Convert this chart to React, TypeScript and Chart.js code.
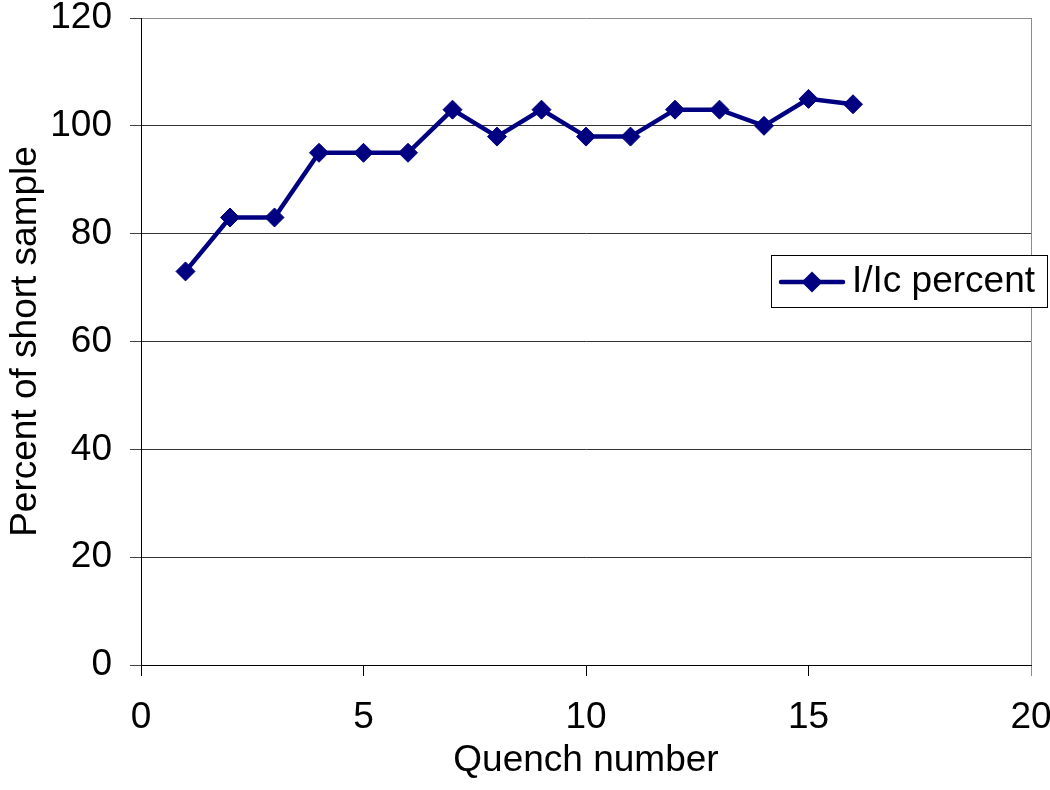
import React, { useEffect, useRef } from "react";
import { Chart, registerables } from "chart.js";

Chart.register(...registerables);

const quenchNumbers = [1, 2, 3, 4, 5, 6, 7, 8, 9, 10, 11, 12, 13, 14, 15, 16];
const percentValues = [73, 83, 83, 95, 95, 95, 103, 98, 103, 98, 98, 103, 103, 100, 105, 104];
const seriesLabel = "I/Ic percent";
const xTitle = "Quench number";
const yTitle = "Percent of short sample";

const FONT = "'Liberation Sans', Arial, sans-serif";
const NAVY = "#000080";

const legendPlugin = {
  id: "boxLegend",
  afterDraw(chart: any) {
    const ctx = chart.ctx;
    const ds = chart.data.datasets[0];
    ctx.save();
    const bx = 771, by = 255, bw = 276, bh = 52;
    ctx.fillStyle = "#fff";
    ctx.fillRect(bx, by, bw, bh);
    ctx.strokeStyle = "#000";
    ctx.lineWidth = 1;
    ctx.strokeRect(bx + 0.5, by + 0.5, bw, bh);
    const cy = by + 27;
    ctx.strokeStyle = ds.borderColor;
    ctx.lineWidth = 4.5;
    ctx.lineCap = "round";
    ctx.beginPath();
    ctx.moveTo(781, cy);
    ctx.lineTo(843, cy);
    ctx.stroke();
    const mx = 812, r = 10.5;
    ctx.fillStyle = ds.pointBackgroundColor;
    ctx.beginPath();
    ctx.moveTo(mx - r, cy);
    ctx.lineTo(mx, cy - r);
    ctx.lineTo(mx + r, cy);
    ctx.lineTo(mx, cy + r);
    ctx.closePath();
    ctx.fill();
    ctx.fillStyle = "#000";
    ctx.font = `37px ${FONT}`;
    ctx.textBaseline = "middle";
    ctx.textAlign = "left";
    ctx.fillText(ds.label, 852, cy);
    ctx.restore();
  },
};

export default function App() {
  const ref = useRef<HTMLCanvasElement>(null);

  useEffect(() => {
    if (!ref.current) return;
    const points = quenchNumbers.map((x, i) => ({ x, y: percentValues[i] }));
    const chart = new Chart(ref.current, {
      type: "line",
      data: {
        datasets: [
          {
            label: seriesLabel,
            data: points,
            borderColor: NAVY,
            backgroundColor: NAVY,
            pointBackgroundColor: NAVY,
            pointBorderColor: NAVY,
            borderWidth: 4.5,
            pointStyle: "rectRot",
            pointRadius: 9.5,
            pointBorderWidth: 1,
            tension: 0,
            fill: false,
          },
        ],
      },
      options: {
        animation: false,
        responsive: false,
        maintainAspectRatio: false,
        layout: {
          autoPadding: false,
          padding: { left: 0, top: 18, right: 19, bottom: 0 },
        },
        plugins: {
          legend: { display: false },
          tooltip: { enabled: false },
        },
        scales: {
          x: {
            type: "linear",
            min: 0,
            max: 20,
            ticks: {
              stepSize: 5,
              color: "#000",
              font: { family: FONT, size: 37 },
              padding: 20,
              maxRotation: 0,
            },
            grid: {
              drawOnChartArea: true,
              tickLength: 11,
              lineWidth: 1,
              color: (c: any) => (c.tick && c.tick.value === 20 ? "#8c8c8c" : "rgba(0,0,0,0)"),
              tickColor: (c: any) => (c.tick && c.tick.value === 20 ? "#8c8c8c" : "#000"),
            },
            border: { color: "#000", width: 1 },
            title: {
              display: true,
              text: xTitle,
              color: "#000",
              font: { family: FONT, size: 37 },
              padding: { top: 0, bottom: 7 },
            },
            afterFit: (s: any) => {
              s.height = 125;
              s.paddingLeft = 0;
              s.paddingRight = 0;
            },
          },
          y: {
            type: "linear",
            min: 0,
            max: 120,
            ticks: {
              stepSize: 20,
              color: "#000",
              font: { family: FONT, size: 37 },
              padding: 18,
            },
            grid: {
              tickLength: 11,
              lineWidth: 1,
              color: (c: any) => (c.tick && c.tick.value === 120 ? "#8c8c8c" : "#333"),
              tickColor: "#444",
            },
            border: { color: "#000", width: 1 },
            title: {
              display: true,
              text: yTitle,
              color: "#000",
              font: { family: FONT, size: 37 },
              padding: { top: 4, bottom: 0 },
            },
            afterFit: (s: any) => {
              s.width = 141;
              s.paddingTop = 0;
              s.paddingBottom = 0;
            },
          },
        },
      },
      plugins: [legendPlugin],
    });
    return () => chart.destroy();
  }, []);

  return (
    <div style={{ position: "fixed", left: 0, top: 0, width: 1050, height: 790, background: "#fff" }}>
      <canvas ref={ref} width={1050} height={790} style={{ display: "block" }} />
    </div>
  );
}
